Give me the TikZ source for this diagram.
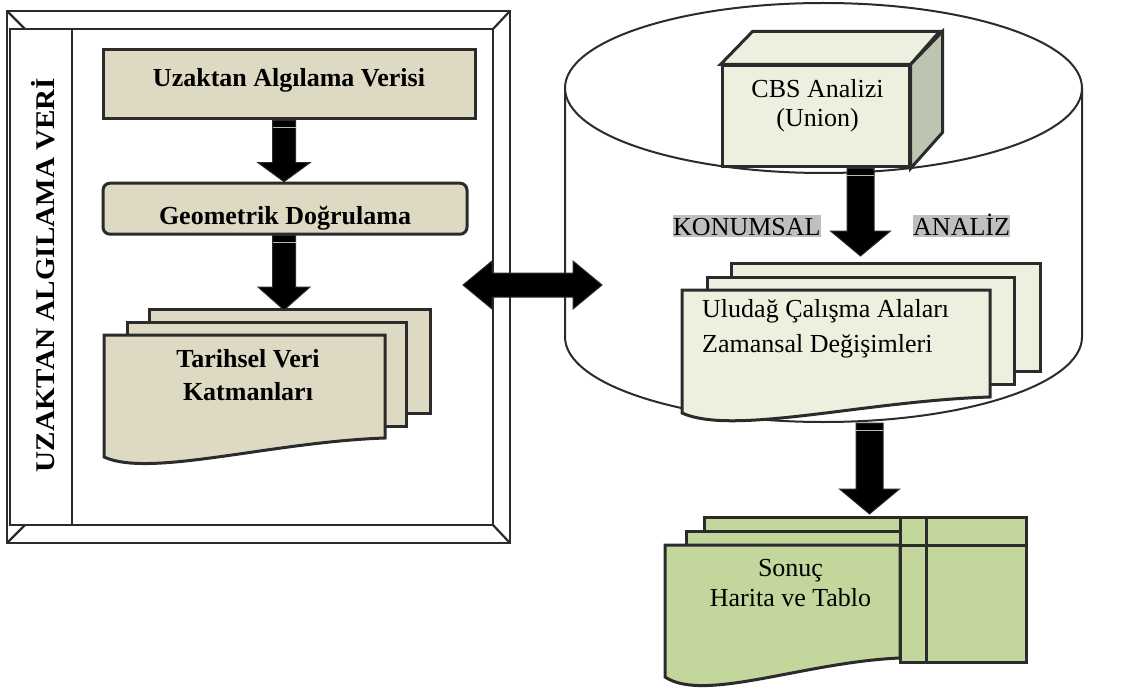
\documentclass[tikz,border=0pt]{standalone}
\usepackage{fontspec}
\usepackage{graphicx}
\setmainfont{Liberation Serif}
\usetikzlibrary{calc}

\definecolor{edge}{HTML}{2B2B2B}
\definecolor{tanfill}{HTML}{DDD9C3}
\definecolor{paleg}{HTML}{EBF1DE}
\definecolor{sideg}{HTML}{BDC5B1}
\definecolor{oliveg}{HTML}{C3D69B}
\definecolor{hilite}{HTML}{BFBFBF}

\tikzset{
  boxline/.style={draw=edge, line width=3pt, line join=miter},
  frameline/.style={draw=edge, line width=2.2pt},
  cylline/.style={draw=edge, line width=2pt},
  txt/.style={font=\fontsize{26}{30}\selectfont, inner sep=0pt},
  btxt/.style={font=\fontsize{26}{33}\selectfont\bfseries, inner sep=0pt},
  blk/.style={fill=black, draw=edge, line width=1pt, line join=miter},
  stripe/.style={draw=gray!55, line width=0.9pt},
  hl/.style={fill=hilite, inner sep=0pt, text height=20pt, text depth=1.5pt,
             font=\fontsize{26}{30}\selectfont},
}

% thick block arrow pointing down, from #1 to the height of #2
% #3 half shaft width, #4 half head width, #5 head length
\newcommand{\blockdown}[5]{%
  \filldraw[blk] let \p1=(#1), \p2=(#2) in
    (\x1-#3,\y1) -- (\x1+#3,\y1) -- (\x1+#3,\y2+#5) -- (\x1+#4,\y2+#5)
    -- (\x1,\y2) -- (\x1-#4,\y2+#5) -- (\x1-#3,\y2+#5) -- cycle;
  \draw[stripe] let \p1=(#1) in (\x1-#3,\y1-7pt) -- (\x1+#3,\y1-7pt);
}

\begin{document}
\begin{tikzpicture}[x=1pt,y=-1pt]
\useasboundingbox (0,0) rectangle (1125,690);

% ---------- left: bevelled frame ----------
\draw[frameline, fill=white] (7,11) rectangle (510,543);
\draw[frameline] (25,29) rectangle (493,525);
\draw[frameline] (7,11) -- (25,29) (510,11) -- (493,29)
                 (510,543) -- (493,525) (7,543) -- (25,525);
\node[draw=edge, line width=2.2pt, fill=white, minimum width=62,
      minimum height=496, inner sep=0] (panel) at (41,277) {};
\node[font=\fontsize{27}{27}\selectfont\bfseries, rotate=90, anchor=base,
      inner sep=0] (vtitle) at (54,275) {\scalebox{1.08}[1]{UZAKTAN ALGILAMA VERİ}};

% process boxes
\node[boxline, fill=tanfill, minimum width=372, minimum height=69, inner sep=0,
      font=\fontsize{26}{30}\selectfont\bfseries,
      text height=17.6pt, text depth=13.2pt] (b1) at (289,84.5) {Uzaktan Algılama Verisi};
\node[boxline, fill=tanfill, rounded corners=7pt, minimum width=364,
      minimum height=51, inner sep=0, font=\fontsize{26}{30}\selectfont\bfseries,
      text height=37.2pt, text depth=6pt] (b2) at (285,208.7) {Geometrik Doğrulama};

% stacked documents
\filldraw[boxline, fill=tanfill] (149,309) rectangle (430,413);
\filldraw[boxline, fill=tanfill] (127,322) rectangle (406,426);
\filldraw[boxline, fill=tanfill] (104,335) -- (385,335) -- (385,438)
   .. controls (270,442) and (150,478) .. (104,457) -- cycle;
\node[btxt, align=center, anchor=north] (tvk) at (248,349.1) {Tarihsel Veri\\Katmanları};
\coordinate (tvtop) at (284,310);

\blockdown{[xshift=-5]b1.south}{b2.north}{11.5pt}{26pt}{19pt}
\blockdown{[xshift=-1]b2.south}{tvtop}{11.5pt}{26pt}{23pt}

% ---------- right: cylinder ----------
\filldraw[cylline, fill=white] (565,88) -- (565,337)
   .. controls (565,383.9) and (680.7,422) .. (823.5,422)
   .. controls (966.3,422) and (1082,383.9) .. (1082,337) -- (1082,88);
\draw[cylline, fill=white] (823.5,88) ellipse [x radius=258.5, y radius=85];

% cube
\node[boxline, fill=paleg, minimum width=187, minimum height=101, inner sep=0]
   (cbs) at (815.5,116.5) {};
\filldraw[boxline, fill=paleg] (cbs.north west) -- ++(32,-33) -- ++(187,0)
   -- (cbs.north east) -- cycle;
\filldraw[boxline, fill=sideg] (cbs.north east) -- ++(32,-33) -- ++(0,101)
   -- (cbs.south east) -- cycle;
\node[txt, align=center, anchor=north, font=\fontsize{26}{29.5}\selectfont]
   (cbst) at (817.5,78.9) {CBS Analizi\\(Union)};

% stacked documents
\filldraw[boxline, fill=paleg] (731,263) rectangle (1040,371);
\filldraw[boxline, fill=paleg] (707,277) rectangle (1014,384);
\filldraw[boxline, fill=paleg] (682,290) -- (990,290) -- (990,397)
   .. controls (864,401) and (733,436) .. (682,413) -- cycle;
\node[txt, align=left, anchor=north west, font=\fontsize{26}{34.7}\selectfont]
   (ulu) at (702,299.2) {Uludağ Çalışma Alaları\\Zamansal Değişimleri};
\coordinate (ulutop) at (860.5,256);

\node[hl, anchor=base west] (kon) at (673,235) {KONUMSAL};
\node[hl, anchor=base west] (ana) at (913,235) {ANALİZ};

\blockdown{[xshift=45]cbs.south}{ulutop}{13.5pt}{30pt}{25pt}

% ---------- result ----------
\filldraw[boxline, fill=oliveg] (704,517) rectangle (900,630);
\filldraw[boxline, fill=oliveg] (686,531) rectangle (900,640);
\filldraw[boxline, fill=oliveg] (665,545) -- (900,545) -- (900,658)
   .. controls (804,662) and (704,703) .. (665,677) -- cycle;
\filldraw[boxline, fill=oliveg] (900,517) rectangle (1026,662);
\draw[boxline] (900,545) -- (1026,545) (926,517) -- (926,662);
\node[txt, align=center, anchor=north, font=\fontsize{26}{30.3}\selectfont]
   (son) at (790.5,559.1) {Sonuç\\Harita ve Tablo};

\coordinate (cylbot) at (869.5,423);
\coordinate (sontop) at (869.5,514);
\blockdown{cylbot}{sontop}{13.5pt}{30pt}{25pt}

% ---------- two-way link ----------
\coordinate (dl) at (463,285);
\coordinate (dr) at (602,285);
\filldraw[blk] let \p1=(dl), \p2=(dr) in
  (\x1,\y1) -- (\x1+29pt,\y1+24pt) -- (\x1+29pt,\y1+12pt) -- (\x2-29pt,\y1+12pt)
  -- (\x2-29pt,\y1+24pt) -- (\x2,\y1) -- (\x2-29pt,\y1-24pt) -- (\x2-29pt,\y1-12pt)
  -- (\x1+29pt,\y1-12pt) -- (\x1+29pt,\y1-24pt) -- cycle;
\end{tikzpicture}
\end{document}
